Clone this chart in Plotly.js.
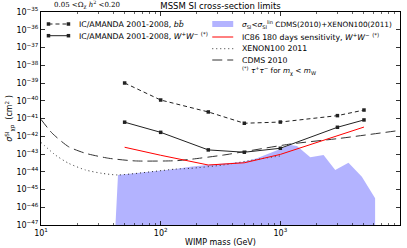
<!DOCTYPE html>
<html><head><meta charset="utf-8">
<script src="https://cdn.plot.ly/plotly-3.0.1.min.js"></script>
<style>html,body{margin:0;padding:0;background:#fff;}#chart{width:407px;height:248px;}</style>
</head><body><div id="chart"></div>
<script>
// ---- data ----
const massIC   = [50, 100, 250, 500, 1000, 3000, 5000];
const sigmaBB  = [1.0e-39, 1.1e-40, 2.34e-41, 5.4e-42, 6.3e-42, 1.45e-41, 3.0e-41];
const sigmaWW  = [6.2e-42, 1.66e-42, 1.7e-43, 1.26e-43, 2.1e-43, 3.2e-42, 8.3e-42];
const sigmaIC86 = [2.4e-43, 8.5e-44, 2.4e-44, 3.2e-44, 9.5e-44, 1.02e-42, 3.3e-42];

const massCDMS  = [10, 12.4, 17, 23.5, 36.8, 61.4, 133, 177, 334, 1211, 3140, 10000];
const sigmaCDMS = [8.9e-42, 1.48e-42, 2.57e-43, 1.1e-43, 5.75e-44, 4.07e-44, 4.17e-44, 5.0e-44, 8.7e-44, 3.63e-43, 7.6e-43, 2.14e-42];

const massXE  = [10, 13.2, 17, 23.5, 32.4, 44, 133, 177, 334, 638, 1000];
const sigmaXE = [4.5e-43, 8.7e-44, 3.0e-44, 1.26e-44, 8.1e-45, 6.6e-45, 1.41e-44, 1.55e-44, 2.4e-44, 5.0e-44, 7.8e-44];

// allowed-region (sigma_SI < sigma_SI^lin) upper edge
const massFill  = [44, 133, 177, 244, 493, 638, 824, 1000, 1211, 1377, 1780, 2297, 2875, 3710, 4800, 6194];
const sigmaFill = [6.6e-45, 1.41e-44, 1.9e-44, 2.4e-44, 3.7e-44, 5.75e-44, 1.1e-43, 1.8e-43, 3.2e-43, 2.8e-43, 6.5e-44, 8.7e-44, 1.26e-44, 3.2e-44, 5.2e-45, 3.2e-46];
const fillLeftBase = 41.9;   // mass where the region's left edge meets the bottom

const xTickVals = [10, 100, 1000, 10000];
const xTickText = ['10<sup>1</sup>', '10<sup>2</sup>', '10<sup>3</sup>', '10<sup>4</sup>'];
const yExponents = [-47,-46,-45,-44,-43,-42,-41,-40,-39,-38,-37,-36,-35];
const yTickVals = yExponents.map(e => Math.pow(10, e));
const yTickText = yExponents.map(e => '10<sup>' + String(e).replace('-', '−') + '</sup>');

const legendLeftLabels = [
  'IC/AMANDA 2001-2008, <i>bb̄</i>',
  'IC/AMANDA 2001-2008, <i>W</i><sup>+</sup><i>W</i><sup>−</sup> <sup>(*)</sup>'
];
const legendRightLabels = [
  '<i>σ</i><sub>SI</sub><<i>σ</i><sub>SI</sub><sup>lin</sup> CDMS(2010)+XENON100(2011)',
  'IC86 180 days sensitivity, <i>W</i><sup>+</sup><i>W</i><sup>−</sup> <sup>(*)</sup>',
  'XENON100 2011',
  'CDMS 2010',
  '<sup>(*)</sup> <i>τ</i><sup>+</sup><i>τ</i><sup>−</sup> for <i>m</i><sub>χ</sub> < <i>m</i><sub>W</sub>'
];
const legendRightSizes = [7.3, 7.8, 7.8, 7.8, 7.3];

// ---- styles ----
const FONT = 'DejaVu Sans, sans-serif';
const dark = '#222';
const fillColor = 'rgb(179,179,255)';

// minor ticks on log x axis
const minorVals = [];
[10, 100, 1000].forEach(d => { for (let k = 2; k <= 9; k++) minorVals.push(k * d); });

// ---- traces ----
const fillX = [fillLeftBase].concat(massFill, [massFill[massFill.length - 1], fillLeftBase]);
const fillY = [1e-47].concat(sigmaFill, [1e-47, 1e-47]);

const traces = [
  {x: fillX, y: fillY, type: 'scatter', mode: 'lines', fill: 'toself',
   fillcolor: fillColor, line: {width: 0, color: fillColor}, hoverinfo: 'skip'},
  {x: massCDMS, y: sigmaCDMS, type: 'scatter', mode: 'lines',
   line: {color: '#333', width: 1, dash: '10px,5px', shape: 'spline', smoothing: 0.6}},
  {x: massXE, y: sigmaXE, type: 'scatter', mode: 'lines',
   line: {color: '#333', width: 1, dash: '1px,3px', shape: 'spline', smoothing: 0.6}},
  {x: massIC, y: sigmaIC86, type: 'scatter', mode: 'lines',
   line: {color: '#ff0000', width: 1}},
  {x: massIC, y: sigmaBB, type: 'scatter', mode: 'lines+markers',
   line: {color: dark, width: 1, dash: '4px,3px'},
   marker: {symbol: 'square', size: 3.5, color: dark}},
  {x: massIC, y: sigmaWW, type: 'scatter', mode: 'lines+markers',
   line: {color: dark, width: 1},
   marker: {symbol: 'square', size: 3.5, color: dark}}
];

// ---- legend keys drawn on an overlay axis in pixel units of the plot box ----
const keyL = [48, 68], keyR = [212, 233];
const rowsL = [24, 35.7];
const rowsR = [24, 37, 48.7, 60, 71.3];
function key(xs, y, line, marker) {
  const t = {x: xs, y: [y, y], xaxis: 'x2', yaxis: 'y2', type: 'scatter',
          mode: marker ? 'lines+markers' : 'lines', line: line, hoverinfo: 'skip'};
  if (marker) t.marker = marker;
  return t;
}
traces.push(key(keyL, rowsL[0], {color: dark, width: 1, dash: '4px,3px'}, {symbol: 'square', size: 3.5, color: dark}));
traces.push(key(keyL, rowsL[1], {color: dark, width: 1}, {symbol: 'square', size: 3.5, color: dark}));
traces.push(key(keyR, rowsR[1], {color: '#ff0000', width: 1}));
traces.push(key(keyR, rowsR[2], {color: '#333', width: 1, dash: '1px,3px'}));
traces.push(key(keyR, rowsR[3], {color: '#333', width: 1, dash: '10px,5px'}));

const shapes = [{type: 'rect', xref: 'x2', yref: 'y2', x0: keyR[0], x1: keyR[1], y0: 21, y1: 27,
                 fillcolor: fillColor, line: {width: 0}}];

const annotations = [];
legendLeftLabels.forEach((t, i) => annotations.push({
  text: t, x: 77, y: rowsL[i], xref: 'x2', yref: 'y2', xanchor: 'left', yanchor: 'middle',
  showarrow: false, font: {family: FONT, size: 7.8, color: '#000'}}));
legendRightLabels.forEach((t, i) => annotations.push({
  text: t, x: 239.5, y: rowsR[i], xref: 'x2', yref: 'y2', xanchor: 'left', yanchor: 'middle',
  showarrow: false, font: {family: FONT, size: legendRightSizes[i], color: '#000'}}));
annotations.push({
  text: '0.05 <Ω<sub>χ</sub> <i>h</i><sup>2</sup> <0.20', xref: 'paper', yref: 'paper',
  x: 0.031, y: 1.036, xanchor: 'left', yanchor: 'middle', showarrow: false,
  font: {family: 'DejaVu Serif, serif', size: 7, color: '#000'}});

const layout = {
  width: 407, height: 248,
  margin: {l: 40.5, r: 7, t: 12, b: 23, pad: 0},
  paper_bgcolor: '#fff', plot_bgcolor: '#fff',
  showlegend: false,
  font: {family: FONT, size: 8, color: '#000'},
  title: {text: 'MSSM SI cross-section limits', font: {family: FONT, size: 8.5, color: '#000'},
          x: 0.5, xref: 'paper', xanchor: 'center', y: 0.975, yref: 'container', yanchor: 'middle'},
  xaxis: {type: 'log', range: [1, 4], tickmode: 'array', tickvals: xTickVals, ticktext: xTickText,
          ticks: 'inside', ticklen: 4, tickwidth: 0.8, tickcolor: '#000',
          showline: true, linecolor: '#000', linewidth: 1, mirror: 'ticks',
          showgrid: false, zeroline: false,
          minor: {tickmode: 'array', tickvals: minorVals, ticks: 'inside', ticklen: 2, tickwidth: 0.6, tickcolor: '#000', showgrid: false},
          tickfont: {family: FONT, size: 8, color: '#000'},
          title: {text: 'WIMP mass (GeV)', font: {family: FONT, size: 8, color: '#000'}, standoff: 2}},
  yaxis: {type: 'log', range: [-47, -35], tickmode: 'array', tickvals: yTickVals, ticktext: yTickText,
          ticks: 'inside', ticklen: 4, tickwidth: 0.8, tickcolor: '#000',
          showline: true, linecolor: '#000', linewidth: 1, mirror: 'ticks',
          showgrid: false, zeroline: false,
          tickfont: {family: FONT, size: 8, color: '#000'},
          title: {text: '<i>σ</i><sup>SI</sup><sub>χp</sub>  (cm<sup>2</sup> )', font: {family: FONT, size: 8, color: '#000'}, standoff: 2}},
  xaxis2: {overlaying: 'x', anchor: 'y2', range: [40.5, 400], visible: false, fixedrange: true},
  yaxis2: {overlaying: 'y', anchor: 'x2', range: [225, 12], visible: false, fixedrange: true},
  shapes: shapes,
  annotations: annotations
};

Plotly.newPlot('chart', traces, layout, {staticPlot: true, displayModeBar: false});
</script></body></html>
